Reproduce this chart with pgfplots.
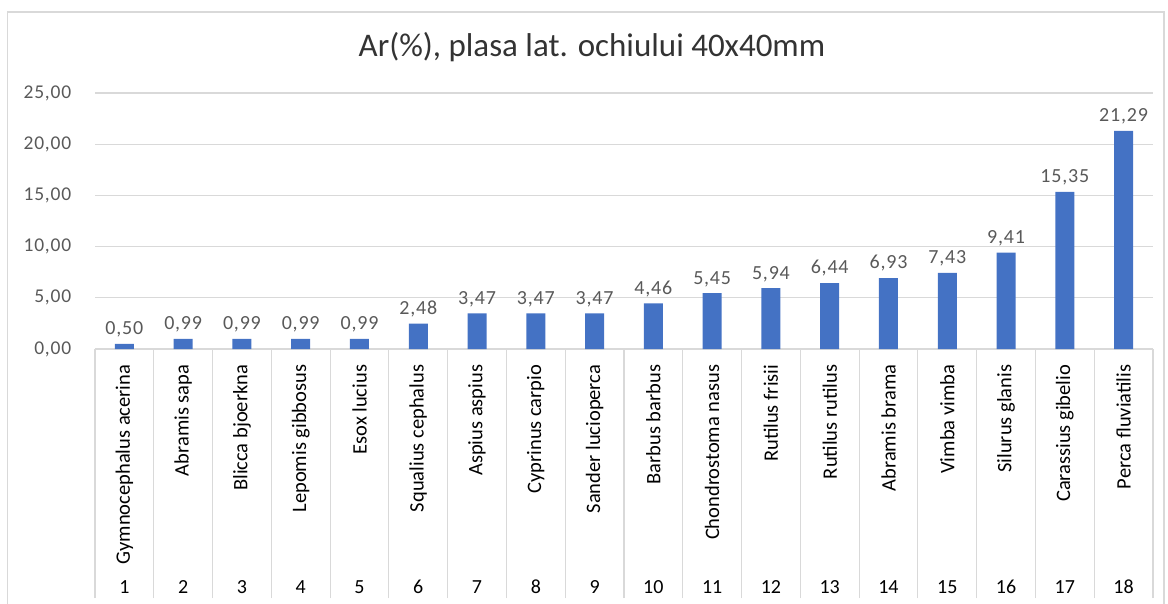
\documentclass[border=0pt]{standalone}
\usepackage{pgfplots}
\pgfplotsset{compat=1.18}
\usepackage{fontspec}
\setmainfont{Carlito}
\newfontfamily\lblfont[LetterSpace=4]{Carlito}
\definecolor{barblue}{HTML}{4472C4}
\definecolor{txtgray}{HTML}{595959}
\definecolor{gridgray}{HTML}{D9D9D9}
\begin{document}
\begin{tikzpicture}
\useasboundingbox (0,0) rectangle (1168pt,603pt);
\draw[gridgray, line width=1.2pt] (7.5pt,-5pt) -- (7.5pt,591pt) -- (1164pt,591pt) -- (1164pt,-5pt);
\node[font=\fontsize{33}{38}\selectfont, text=black!80] at (592pt,556pt) {Ar(\%), plasa lat. ochiului 40x40mm};
\begin{axis}[
  at={(95pt,254pt)}, anchor=south west,
  scale only axis, width=1058pt, height=256pt,
  xmin=0.5, xmax=18.5, ymin=0, ymax=25,
  clip=false,
  axis x line*=bottom, axis y line*=left,
  y axis line style={draw=none},
  x axis line style={gridgray, line width=1.2pt},
  ymajorgrids, grid style={gridgray, line width=1.2pt},
  ytick={0,5,10,15,20,25},
  ytick style={draw=none},
  yticklabel style={font=\lblfont\fontsize{19.5}{23}\selectfont, text=txtgray, xshift=-16pt,
    /pgf/number format/.cd, fixed, fixed zerofill, precision=2, use comma, assume math mode=true},
  xtick={1,...,18},
  major x tick style={draw=none},
  minor xtick={0.5,1.5,...,18.5},
  minor x tick style={gridgray, line width=1.2pt},
  minor tick length=249pt,
  tick align=outside,
  xticklabels={Gymnocephalus acerina, Abramis sapa, Blicca bjoerkna, Lepomis gibbosus, Esox lucius, Squalius cephalus, Aspius aspius, Cyprinus carpio, Sander lucioperca, Barbus barbus, Chondrostoma nasus, Rutilus frisii, Rutilus rutilus, Abramis brama, Vimba vimba, Silurus glanis, Carassius gibelio, Perca fluviatilis},
  xticklabel style={rotate=90, anchor=east, font=\fontsize{20.5}{24}\selectfont, text=black, xshift=-8pt},
  nodes near coords,
  every node near coord/.append style={font=\lblfont\fontsize{20}{24}\selectfont, text=txtgray, yshift=3pt,
    /pgf/number format/.cd, fixed, fixed zerofill, precision=2, use comma, assume math mode=true},
]
\addplot[ybar, bar width=19pt, fill=barblue, draw=none] coordinates {
(1,0.50) (2,0.99) (3,0.99) (4,0.99) (5,0.99) (6,2.48) (7,3.47) (8,3.47) (9,3.47)
(10,4.46) (11,5.45) (12,5.94) (13,6.44) (14,6.93) (15,7.43) (16,9.41) (17,15.35) (18,21.29)};
\pgfplotsinvokeforeach{1,...,18}{
  \node[font=\fontsize{20}{24}\selectfont, text=black] at (axis cs:#1,0) [yshift=-238pt] {#1};
}
\end{axis}
\end{tikzpicture}
\end{document}
